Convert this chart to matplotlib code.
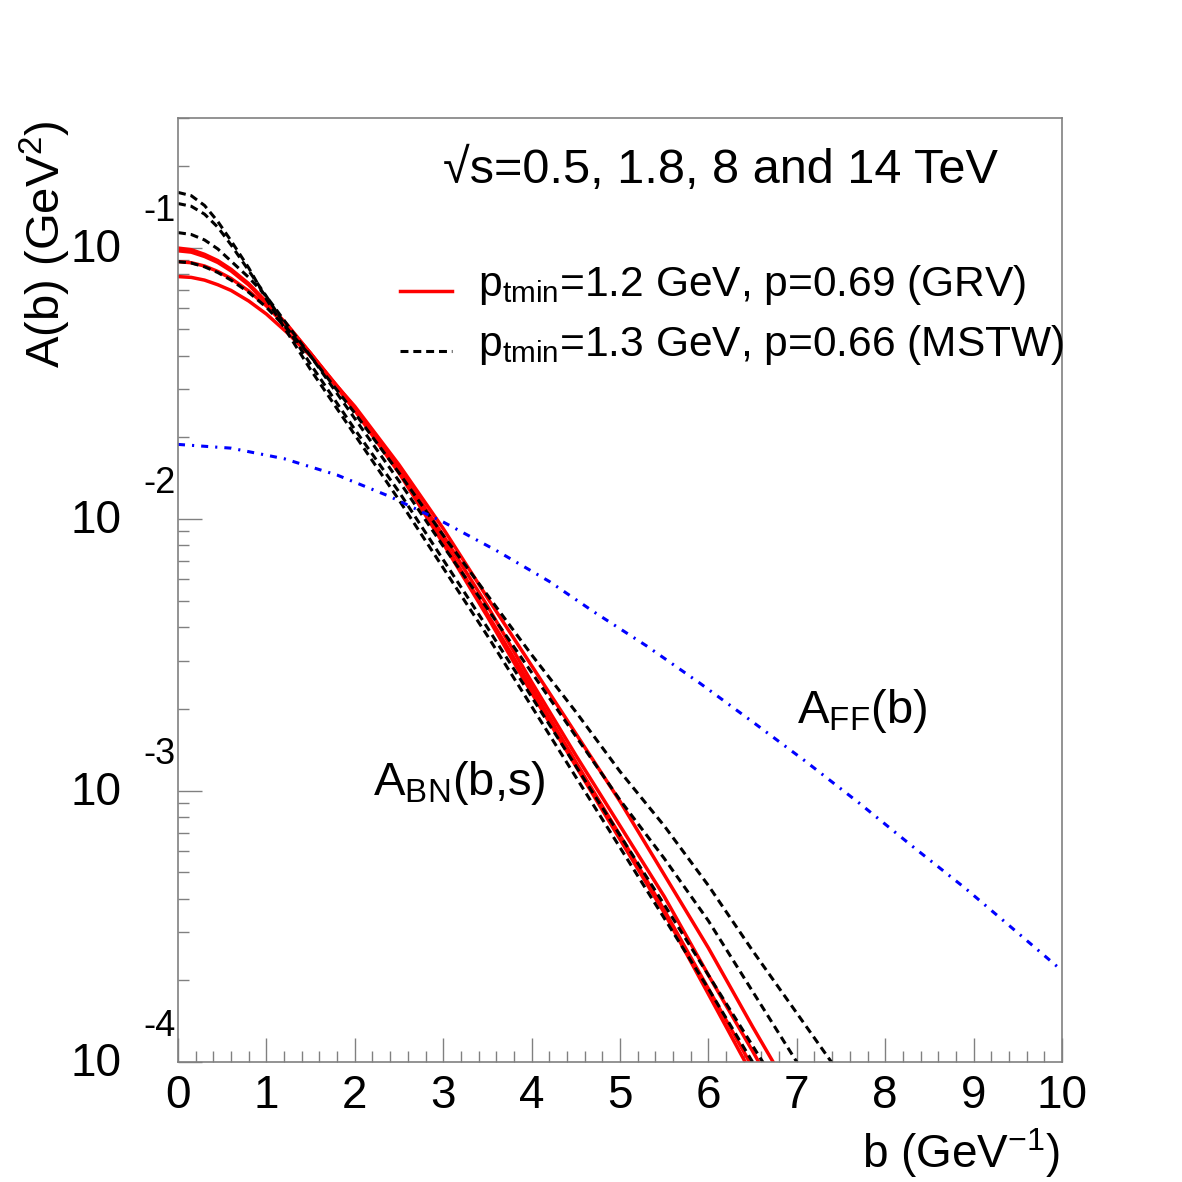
import numpy as np
import matplotlib
matplotlib.use("Agg")
import matplotlib.pyplot as plt
import matplotlib.transforms as mtransforms
from matplotlib.ticker import LogLocator, MultipleLocator, NullFormatter

plt.rcParams['font.family'] = ['Liberation Sans', 'DejaVu Sans']
plt.rcParams['mathtext.default'] = 'regular'

# impact parameter grid for the BN curves (GeV^-1)
b_bn = [0, 0.15, 0.3, 0.45, 0.6, 0.8, 1.0, 1.25, 1.5, 2, 2.5, 3, 3.5, 4, 4.5, 5,
        5.5, 6, 6.5, 7, 7.5]

# log10 A_BN(b,s), GRV set (red), four energies
log_grv_a = [-1.002, -1.008, -1.025, -1.048, -1.08, -1.133, -1.20, -1.29, -1.39, -1.60,
             -1.83, -2.09, -2.36, -2.64, -2.91, -3.18, -3.45, -3.75, -4.05, -4.35, -4.65]
log_grv_b = [-1.012, -1.017, -1.033, -1.055, -1.086, -1.138, -1.203, -1.293, -1.39, -1.595,
             -1.825, -2.08, -2.35, -2.62, -2.895, -3.165, -3.44, -3.73, -4.02, -4.32, -4.62]
log_grv_c = [-1.052, -1.056, -1.068, -1.088, -1.114, -1.16, -1.215, -1.298, -1.39, -1.59,
             -1.815, -2.06, -2.32, -2.60, -2.87, -3.13, -3.39, -3.68, -3.96, -4.25, -4.54]
log_grv_d = [-1.107, -1.110, -1.12, -1.137, -1.158, -1.197, -1.245, -1.318, -1.40, -1.585,
             -1.80, -2.035, -2.29, -2.54, -2.79, -3.04, -3.31, -3.58, -3.87, -4.15, -4.44]

# log10 A_BN(b,s), MSTW set (black dashed)
log_mstw_a = [-0.797, -0.809, -0.845, -0.904, -0.975, -1.075, -1.19, -1.32, -1.45, -1.69,
              -1.93, -2.18, -2.43, -2.69, -2.95, -3.21, -3.47, -3.73, -4.0, -4.27, -4.54]
log_mstw_b = [-0.838, -0.848, -0.877, -0.925, -0.99, -1.085, -1.18, -1.305, -1.43, -1.67,
              -1.90, -2.15, -2.40, -2.655, -2.91, -3.165, -3.42, -3.68, -3.94, -4.2, -4.46]
log_mstw_c = [-0.945, -0.952, -0.972, -1.005, -1.05, -1.11, -1.18, -1.29, -1.40, -1.63,
              -1.86, -2.10, -2.33, -2.565, -2.80, -3.035, -3.25, -3.48, -3.74, -4.0, -4.25]
log_mstw_d = [-1.052, -1.057, -1.071, -1.092, -1.12, -1.165, -1.22, -1.305, -1.40, -1.61,
              -1.83, -2.06, -2.28, -2.50, -2.71, -2.93, -3.13, -3.35, -3.59, -3.82, -4.05]

# form factor curve A_FF(b)
b_ff = [0, 0.6, 1.2, 1.8, 2.4, 3.0, 3.6, 4.2, 4.7, 5.3, 5.9, 6.5, 7.1, 7.7, 8.3, 8.9, 9.5, 10]
a_ff = [0.01883, 0.01824, 0.01668, 0.01452, 0.01209, 0.00975, 0.00766, 0.00589, 0.00456,
        0.00341, 0.00249, 0.00179, 0.00128, 0.000902, 0.000626, 0.000438, 0.000299, 0.000217]

x_ticks = [0, 1, 2, 3, 4, 5, 6, 7, 8, 9, 10]
y_exponents = [-1, -2, -3, -4]

W = 1182.0
fig = plt.figure(figsize=(11.82, 11.82), dpi=100)
ax = fig.add_axes([178 / W, 1 - 1062 / W, 884 / W, 944 / W])
ax.set_yscale('log')

for logs in [log_grv_a, log_grv_b, log_grv_c, log_grv_d]:
    ax.plot(b_bn, np.power(10.0, logs), color='red', lw=2.5)
for logs in [log_mstw_a, log_mstw_b, log_mstw_c, log_mstw_d]:
    ax.plot(b_bn, np.power(10.0, logs), color='black', lw=2.2, ls=(0, (2.6, 1.6)))
ax.plot(b_ff, a_ff, color='blue', lw=2.2, ls=(0, (2.3, 2.3, 0.7, 2.3)))

ax.set_xlim(0, 10)
ax.set_ylim(1e-4, 0.3)

# axes frame and ticks (ROOT look)
for s in ax.spines.values():
    s.set_color('#808080')
    s.set_linewidth(1.2)
ax.set_xticks(x_ticks)
ax.set_xticklabels([str(v) for v in x_ticks])
ax.xaxis.set_minor_locator(MultipleLocator(0.2))
ax.yaxis.set_major_locator(LogLocator(base=10, numticks=10))
ax.yaxis.set_minor_locator(LogLocator(base=10, subs=np.arange(2, 10), numticks=20))
ax.yaxis.set_major_formatter(NullFormatter())
ax.yaxis.set_minor_formatter(NullFormatter())
ax.tick_params(which='major', direction='in', length=17, width=1, color='#808080',
               top=False, right=False, labelsize=33, pad=9)
ax.tick_params(which='minor', direction='in', length=8, width=1, color='#808080',
               top=False, right=False)

# y tick labels: "10" with raised exponent
trans = mtransforms.blended_transform_factory(fig.transFigure, ax.transData)
for e in y_exponents:
    t1 = mtransforms.offset_copy(trans, fig=fig, x=0, y=-2, units='dots')
    ax.text(122 / W, 10.0 ** e, '10', transform=t1, ha='right', va='center', fontsize=33)
    t2 = mtransforms.offset_copy(trans, fig=fig, x=0, y=36, units='dots')
    ax.text(143 / W, 10.0 ** e, str(e), transform=t2, ha='left', va='center', fontsize=26)

# axis titles
fig.text(1060 / W, 1 - 1168 / W, 'b (GeV$^{-1}$)', ha='right', va='baseline', fontsize=33)
fig.text(45 / W, 1 - 244 / W, 'A(b) (GeV$^{2}$)', ha='center', va='center',
         rotation=90, fontsize=34)

# annotations
fig.text(443 / W, 1 - 170 / W, '\u221as=0.5, 1.8, 8 and 14 TeV', ha='left', va='center',
         fontsize=35)
fig.text(373 / W, 1 - 795 / W, 'A$_{BN}$(b,s)', ha='left', va='baseline', fontsize=34)
fig.text(797 / W, 1 - 723 / W, 'A$_{FF}$(b)', ha='left', va='baseline', fontsize=34)

# legend
ax.plot([0.2511, 0.3100], [0.8167, 0.8167], transform=ax.transAxes, color='red', lw=2.5)
ax.plot([0.2511, 0.3100], [0.7532, 0.7532], transform=ax.transAxes, color='black', lw=2.2,
        ls=(0, (2.6, 1.6)))
ax.text(0.3394, 0.8231, '$p_{tmin}$=1.2 GeV, p=0.69 (GRV)', transform=ax.transAxes,
        ha='left', va='center', fontsize=30.6)
ax.text(0.3394, 0.7595, '$p_{tmin}$=1.3 GeV, p=0.66 (MSTW)', transform=ax.transAxes,
        ha='left', va='center', fontsize=30.6)

fig.savefig('out.png', dpi=100)
